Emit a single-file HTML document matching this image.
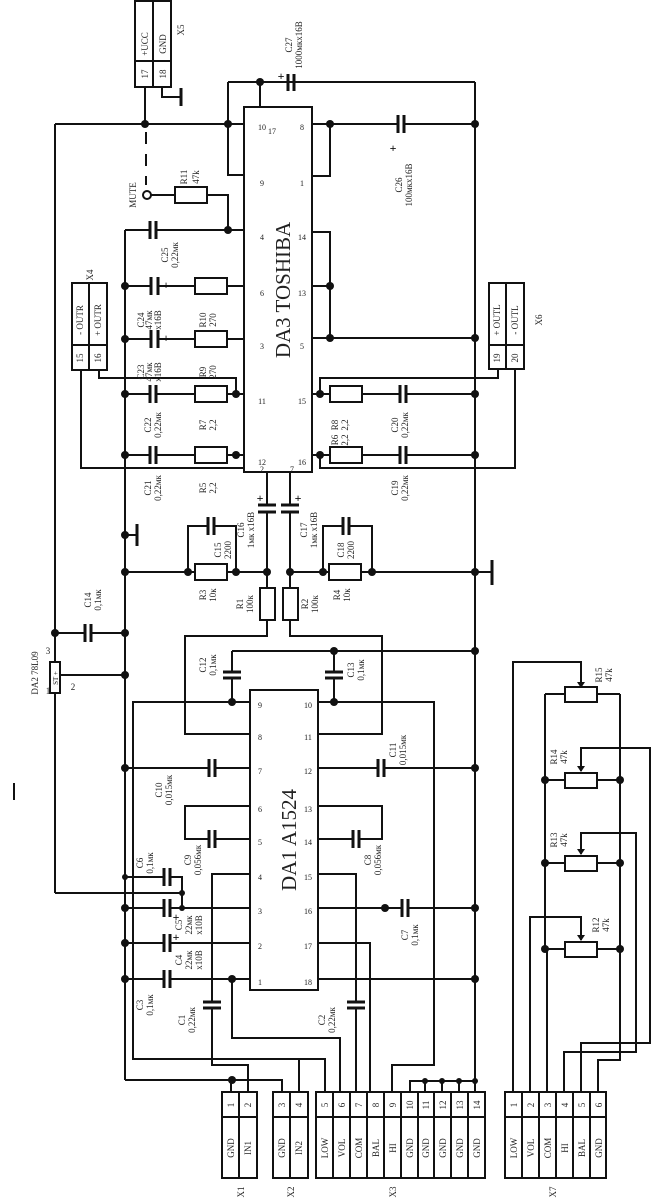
<!DOCTYPE html>
<html><head><meta charset="utf-8"><style>
html,body{margin:0;padding:0;background:#fff}
svg{display:block}
text{font-family:"Liberation Serif",serif;fill:#222}
</style></head><body>
<svg width="653" height="1200" viewBox="0 0 653 1200" xmlns="http://www.w3.org/2000/svg">
<g stroke="#111" stroke-width="2" fill="none">
<rect x="244" y="107" width="68" height="365"/>
<polyline points="228,82 475,82"/>
<polyline points="228,82 228,175 244,175"/>
<line x1="260" y1="82" x2="260" y2="107"/>
<line x1="55" y1="124" x2="244" y2="124"/>
<line x1="55" y1="124" x2="55" y2="893"/>
<line x1="55" y1="893" x2="182" y2="893"/>
<rect x="135" y="1" width="36" height="86"/>
<line x1="153" y1="1" x2="153" y2="87"/><line x1="135" y1="61" x2="171" y2="61"/>
<line x1="145" y1="87" x2="145" y2="124"/>
<polyline points="162,87 162,97 181,97"/><line x1="181" y1="88" x2="181" y2="106" stroke-width="3"/>
<line x1="146" y1="132" x2="146" y2="185" stroke-dasharray="12,10"/>
<line x1="151" y1="195" x2="175" y2="195"/><rect x="175" y="187" width="32" height="16"/>
<polyline points="207,195 228,195 228,230"/>
<line x1="125" y1="230" x2="125" y2="1080"/>
<line x1="125" y1="230" x2="150" y2="230"/><line x1="156" y1="230" x2="244" y2="230"/>
<line x1="125" y1="286" x2="151" y2="286"/><line x1="158" y1="286" x2="195" y2="286"/><rect x="195" y="278" width="32" height="16"/><line x1="227" y1="286" x2="244" y2="286"/>
<line x1="125" y1="339" x2="151" y2="339"/><line x1="158" y1="339" x2="195" y2="339"/><rect x="195" y="331" width="32" height="16"/><line x1="227" y1="339" x2="244" y2="339"/>
<line x1="125" y1="394" x2="150" y2="394"/><line x1="156" y1="394" x2="195" y2="394"/><rect x="195" y="386" width="32" height="16"/><line x1="227" y1="394" x2="244" y2="394"/>
<line x1="125" y1="455" x2="150" y2="455"/><line x1="156" y1="455" x2="195" y2="455"/><rect x="195" y="447" width="32" height="16"/><line x1="227" y1="455" x2="244" y2="455"/>
<rect x="72" y="283" width="35" height="87"/><line x1="89" y1="283" x2="89" y2="370"/><line x1="72" y1="345" x2="107" y2="345"/>
<polyline points="99,370 99,378 236,378 236,394"/>
<polyline points="81,370 81,468 244,468"/>
<line x1="312" y1="124" x2="398" y2="124"/><line x1="404" y1="124" x2="475" y2="124"/>
<polyline points="330,124 330,176 312,176"/>
<polyline points="312,232 330,232 330,338"/><line x1="312" y1="286" x2="330" y2="286"/>
<line x1="312" y1="338" x2="475" y2="338"/>
<line x1="475" y1="82" x2="475" y2="1080"/>
<line x1="312" y1="394" x2="330" y2="394"/><rect x="330" y="386" width="32" height="16"/><line x1="362" y1="394" x2="400" y2="394"/><line x1="406" y1="394" x2="475" y2="394"/>
<line x1="312" y1="455" x2="330" y2="455"/><rect x="330" y="447" width="32" height="16"/><line x1="362" y1="455" x2="400" y2="455"/><line x1="406" y1="455" x2="475" y2="455"/>
<rect x="489" y="283" width="35" height="86"/><line x1="506" y1="283" x2="506" y2="369"/><line x1="489" y1="345" x2="524" y2="345"/>
<polyline points="498,369 498,378 320,378 320,394"/>
<polyline points="515,369 515,468 320,468 320,455"/>
<line x1="267" y1="472" x2="267" y2="505"/><line x1="267" y1="512" x2="267" y2="588"/>
<line x1="290" y1="472" x2="290" y2="505"/><line x1="290" y1="512" x2="290" y2="588"/>
<line x1="125" y1="572" x2="195" y2="572"/><rect x="195" y="564" width="32" height="16"/><line x1="227" y1="572" x2="267" y2="572"/>
<polyline points="188,572 188,526 208,526"/><polyline points="214,526 236,526 236,572"/>
<line x1="290" y1="572" x2="329" y2="572"/><rect x="329" y="564" width="32" height="16"/><line x1="361" y1="572" x2="475" y2="572"/>
<polyline points="323,572 323,526 343,526"/><polyline points="349,526 372,526 372,572"/>
<polyline points="125,535 137,535"/><line x1="137" y1="524" x2="137" y2="546" stroke-width="3"/>
<polyline points="475,572 492,572"/><line x1="492" y1="560" x2="492" y2="585" stroke-width="3"/>
<rect x="260" y="588" width="15" height="32"/><rect x="283" y="588" width="15" height="32"/>
<polyline points="267,620 267,636 185,636 185,734 250,734"/>
<polyline points="290,620 290,636 382,636 382,734 318,734"/>
<line x1="55" y1="633" x2="85" y2="633"/><line x1="91" y1="633" x2="125" y2="633"/>
<rect x="50" y="662" width="10" height="31" fill="#fff"/>
<line x1="60" y1="675" x2="125" y2="675"/>
<rect x="250" y="690" width="68" height="300"/>
<line x1="232" y1="651" x2="475" y2="651"/>
<line x1="232" y1="651" x2="232" y2="672"/><line x1="232" y1="678" x2="232" y2="702"/>
<line x1="334" y1="651" x2="334" y2="672"/><line x1="334" y1="678" x2="334" y2="702"/>
<polyline points="250,702 133,702 133,1059 325,1059 325,1092"/>
<polyline points="318,702 434,702 434,1065 392,1065 392,1092"/>
<line x1="125" y1="768" x2="209" y2="768"/><line x1="215" y1="768" x2="250" y2="768"/>
<line x1="318" y1="768" x2="378" y2="768"/><line x1="384" y1="768" x2="475" y2="768"/>
<polyline points="250,806 185,806 185,839 209,839"/><line x1="215" y1="839" x2="250" y2="839"/>
<polyline points="318,806 382,806 382,839 359,839"/><line x1="353" y1="839" x2="318" y2="839"/>
<polyline points="250,874 212,874 212,1002"/><polyline points="212,1008 212,1065 248,1065 248,1092"/>
<polyline points="318,874 356,874 356,1002"/><polyline points="356,1008 356,1092"/>
<line x1="125" y1="877" x2="164" y2="877"/><polyline points="170,877 182,877 182,908"/>
<line x1="125" y1="908" x2="164" y2="908"/><line x1="170" y1="908" x2="250" y2="908"/>
<line x1="318" y1="908" x2="402" y2="908"/><line x1="408" y1="908" x2="475" y2="908"/>
<line x1="125" y1="943" x2="164" y2="943"/><line x1="170" y1="943" x2="250" y2="943"/>
<polyline points="318,943 370,943 370,1092"/>
<line x1="125" y1="979" x2="164" y2="979"/><line x1="170" y1="979" x2="250" y2="979"/>
<polyline points="232,979 232,1038 340,1038 340,1092"/>
<line x1="318" y1="979" x2="475" y2="979"/>
<polyline points="125,1080 282,1080 282,1092"/><line x1="231" y1="1080" x2="231" y2="1092"/>
<polyline points="299,1092 299,1060"/>
<polyline points="410,1092 410,1081 475,1081"/>
<line x1="425" y1="1081" x2="425" y2="1092"/><line x1="442" y1="1081" x2="442" y2="1092"/><line x1="459" y1="1081" x2="459" y2="1092"/><line x1="475" y1="1081" x2="475" y2="1092"/>
<rect x="222" y="1092" width="35" height="86"/><line x1="239" y1="1092" x2="239" y2="1178"/><line x1="222" y1="1117" x2="257" y2="1117"/>
<rect x="273" y="1092" width="35" height="86"/><line x1="290" y1="1092" x2="290" y2="1178"/><line x1="273" y1="1117" x2="308" y2="1117"/>
<rect x="316" y="1092" width="169" height="86"/><line x1="316" y1="1117" x2="485" y2="1117"/>
<line x1="333" y1="1092" x2="333" y2="1178"/><line x1="350" y1="1092" x2="350" y2="1178"/><line x1="367" y1="1092" x2="367" y2="1178"/><line x1="384" y1="1092" x2="384" y2="1178"/><line x1="401" y1="1092" x2="401" y2="1178"/><line x1="418" y1="1092" x2="418" y2="1178"/><line x1="434" y1="1092" x2="434" y2="1178"/><line x1="451" y1="1092" x2="451" y2="1178"/><line x1="468" y1="1092" x2="468" y2="1178"/>
<rect x="505" y="1092" width="101" height="86"/><line x1="505" y1="1117" x2="606" y2="1117"/>
<line x1="522" y1="1092" x2="522" y2="1178"/><line x1="539" y1="1092" x2="539" y2="1178"/><line x1="556" y1="1092" x2="556" y2="1178"/><line x1="573" y1="1092" x2="573" y2="1178"/><line x1="590" y1="1092" x2="590" y2="1178"/>
<line x1="545" y1="694" x2="545" y2="949"/><line x1="620" y1="694" x2="620" y2="949"/>
<line x1="545" y1="694" x2="565" y2="694"/><rect x="565" y="687" width="32" height="15"/><line x1="597" y1="694" x2="620" y2="694"/>
<line x1="545" y1="780" x2="565" y2="780"/><rect x="565" y="773" width="32" height="15"/><line x1="597" y1="780" x2="620" y2="780"/>
<line x1="545" y1="863" x2="565" y2="863"/><rect x="565" y="856" width="32" height="15"/><line x1="597" y1="863" x2="620" y2="863"/>
<line x1="545" y1="949" x2="565" y2="949"/><rect x="565" y="942" width="32" height="15"/><line x1="597" y1="949" x2="620" y2="949"/>
<polyline points="513,1092 513,662 581,662 581,685"/>
<polyline points="530,1092 530,917 581,917 581,940"/>
<line x1="547" y1="1092" x2="547" y2="949"/>
<polyline points="564,1092 564,1052 636,1052 636,833 581,833 581,854"/>
<polyline points="581,1092 581,1043 650,1043 650,748 581,748 581,771"/>
<polyline points="598,1092 598,1060 620,1060 620,949"/>
<line x1="14" y1="783" x2="14" y2="800"/>
</g>
<g stroke="#111" stroke-width="3">
<line x1="288" y1="74" x2="288" y2="91"/><line x1="294" y1="74" x2="294" y2="91"/>
<line x1="398" y1="115" x2="398" y2="133"/><line x1="404" y1="115" x2="404" y2="133"/>
<line x1="150" y1="221" x2="150" y2="239"/><line x1="156" y1="221" x2="156" y2="239"/>
<line x1="151" y1="277" x2="151" y2="295"/><line x1="158" y1="277" x2="158" y2="295"/>
<line x1="151" y1="330" x2="151" y2="348"/><line x1="158" y1="330" x2="158" y2="348"/>
<line x1="150" y1="385" x2="150" y2="403"/><line x1="156" y1="385" x2="156" y2="403"/>
<line x1="150" y1="446" x2="150" y2="464"/><line x1="156" y1="446" x2="156" y2="464"/>
<line x1="400" y1="385" x2="400" y2="403"/><line x1="406" y1="385" x2="406" y2="403"/>
<line x1="400" y1="446" x2="400" y2="464"/><line x1="406" y1="446" x2="406" y2="464"/>
<line x1="258" y1="505" x2="276" y2="505"/><line x1="258" y1="512" x2="276" y2="512"/>
<line x1="281" y1="505" x2="299" y2="505"/><line x1="281" y1="512" x2="299" y2="512"/>
<line x1="208" y1="517" x2="208" y2="535"/><line x1="214" y1="517" x2="214" y2="535"/>
<line x1="343" y1="517" x2="343" y2="535"/><line x1="349" y1="517" x2="349" y2="535"/>
<line x1="85" y1="624" x2="85" y2="642"/><line x1="91" y1="624" x2="91" y2="642"/>
<line x1="223" y1="672" x2="241" y2="672"/><line x1="223" y1="678" x2="241" y2="678"/>
<line x1="325" y1="672" x2="343" y2="672"/><line x1="325" y1="678" x2="343" y2="678"/>
<line x1="209" y1="759" x2="209" y2="777"/><line x1="215" y1="759" x2="215" y2="777"/>
<line x1="378" y1="759" x2="378" y2="777"/><line x1="384" y1="759" x2="384" y2="777"/>
<line x1="209" y1="830" x2="209" y2="848"/><line x1="215" y1="830" x2="215" y2="848"/>
<line x1="353" y1="830" x2="353" y2="848"/><line x1="359" y1="830" x2="359" y2="848"/>
<line x1="164" y1="868" x2="164" y2="886"/><line x1="170" y1="868" x2="170" y2="886"/>
<line x1="164" y1="899" x2="164" y2="917"/><line x1="170" y1="899" x2="170" y2="917"/>
<line x1="164" y1="934" x2="164" y2="952"/><line x1="170" y1="934" x2="170" y2="952"/>
<line x1="164" y1="970" x2="164" y2="988"/><line x1="170" y1="970" x2="170" y2="988"/>
<line x1="402" y1="899" x2="402" y2="917"/><line x1="408" y1="899" x2="408" y2="917"/>
<line x1="203" y1="1002" x2="221" y2="1002"/><line x1="203" y1="1008" x2="221" y2="1008"/>
<line x1="347" y1="1002" x2="365" y2="1002"/><line x1="347" y1="1008" x2="365" y2="1008"/>
</g>
<g fill="#111" font-size="12" font-weight="bold" text-anchor="middle">
<text x="281" y="80" style="fill:#111">+</text><text x="393" y="152" style="fill:#111">+</text>
<text x="166" y="289" style="fill:#111">+</text><text x="166" y="342" style="fill:#111">+</text>
<text x="260" y="502" style="fill:#111">+</text><text x="298" y="502" style="fill:#111">+</text>
<text x="176" y="921" style="fill:#111">+</text><text x="176" y="941" style="fill:#111">+</text>
</g>
<g fill="#111">
<polygon points="577,682 585,682 581,688"/><polygon points="577,766 585,766 581,772"/>
<polygon points="577,849 585,849 581,855"/><polygon points="577,935 585,935 581,941"/>
</g>
<circle cx="147" cy="195" r="4" fill="#fff" stroke="#111" stroke-width="2"/>
<g fill="#111">
<circle cx="260" cy="82" r="4"/><circle cx="475" cy="124" r="4"/><circle cx="145" cy="124" r="4"/><circle cx="228" cy="124" r="4"/>
<circle cx="330" cy="124" r="4"/><circle cx="228" cy="230" r="4"/><circle cx="330" cy="286" r="4"/><circle cx="330" cy="338" r="4"/><circle cx="475" cy="338" r="4"/>
<circle cx="125" cy="286" r="4"/><circle cx="125" cy="339" r="4"/><circle cx="125" cy="394" r="4"/><circle cx="125" cy="455" r="4"/>
<circle cx="236" cy="394" r="4"/><circle cx="236" cy="455" r="4"/><circle cx="320" cy="394" r="4"/><circle cx="320" cy="455" r="4"/>
<circle cx="475" cy="394" r="4"/><circle cx="475" cy="455" r="4"/>
<circle cx="125" cy="535" r="4"/><circle cx="125" cy="572" r="4"/><circle cx="188" cy="572" r="4"/><circle cx="236" cy="572" r="4"/><circle cx="267" cy="572" r="4"/>
<circle cx="290" cy="572" r="4"/><circle cx="323" cy="572" r="4"/><circle cx="372" cy="572" r="4"/><circle cx="475" cy="572" r="4"/>
<circle cx="55" cy="633" r="4"/><circle cx="125" cy="633" r="4"/><circle cx="125" cy="675" r="4"/>
<circle cx="334" cy="651" r="4"/><circle cx="475" cy="651" r="4"/><circle cx="232" cy="702" r="4"/><circle cx="334" cy="702" r="4"/>
<circle cx="125" cy="768" r="4"/><circle cx="475" cy="768" r="4"/><circle cx="125" cy="877" r="3"/><circle cx="182" cy="893" r="3"/><circle cx="182" cy="908" r="3"/>
<circle cx="125" cy="908" r="4"/><circle cx="125" cy="943" r="4"/><circle cx="125" cy="979" r="4"/><circle cx="232" cy="979" r="4"/>
<circle cx="385" cy="908" r="4"/><circle cx="475" cy="908" r="4"/><circle cx="475" cy="979" r="4"/>
<circle cx="232" cy="1080" r="4"/><circle cx="425" cy="1081" r="3"/><circle cx="442" cy="1081" r="3"/><circle cx="459" cy="1081" r="3"/><circle cx="475" cy="1081" r="3"/>
<circle cx="545" cy="780" r="4"/><circle cx="620" cy="780" r="4"/><circle cx="545" cy="863" r="4"/><circle cx="620" cy="863" r="4"/><circle cx="545" cy="949" r="4"/><circle cx="620" cy="949" r="4"/>
</g>
<g font-size="9" text-anchor="middle">
<text transform="translate(290,290) rotate(-90)" font-size="21">DA3 TOSHIBA</text>
<text transform="translate(296,840) rotate(-90)" font-size="21">DA1 A1524</text>
<text transform="translate(148,44) rotate(-90)">+UCC</text>
<text transform="translate(166,44) rotate(-90)">GND</text>
<text transform="translate(148,74) rotate(-90)">17</text><text transform="translate(166,74) rotate(-90)">18</text>
<text transform="translate(184,30) rotate(-90)">X5</text>
<text transform="translate(136,195) rotate(-90)">MUTE</text>
<text transform="translate(187,177) rotate(-90)">R11</text><text transform="translate(199,177) rotate(-90)">47k</text>
<text transform="translate(292,45) rotate(-90)">C27</text><text transform="translate(302,45) rotate(-90)">1000мкх16В</text>
<text transform="translate(402,185) rotate(-90)">C26</text><text transform="translate(412,185) rotate(-90)">100мкх16В</text>
<text transform="translate(168,255) rotate(-90)">C25</text><text transform="translate(178,255) rotate(-90)">0,22мк</text>
<text transform="translate(144,320) rotate(-90)">C24</text><text transform="translate(152,320) rotate(-90)">47мк</text><text transform="translate(161,320) rotate(-90)">x16B</text>
<text transform="translate(144,372) rotate(-90)">C23</text><text transform="translate(152,372) rotate(-90)">47мк</text><text transform="translate(161,372) rotate(-90)">x16B</text>
<text transform="translate(206,320) rotate(-90)">R10</text><text transform="translate(216,320) rotate(-90)">270</text>
<text transform="translate(206,372) rotate(-90)">R9</text><text transform="translate(216,372) rotate(-90)">270</text>
<text transform="translate(206,425) rotate(-90)">R7</text><text transform="translate(216,425) rotate(-90)">2,2</text>
<text transform="translate(206,488) rotate(-90)">R5</text><text transform="translate(216,488) rotate(-90)">2,2</text>
<text transform="translate(151,425) rotate(-90)">C22</text><text transform="translate(161,425) rotate(-90)">0,22мк</text>
<text transform="translate(151,488) rotate(-90)">C21</text><text transform="translate(161,488) rotate(-90)">0,22мк</text>
<text transform="translate(338,425) rotate(-90)">R8</text><text transform="translate(348,425) rotate(-90)">2,2</text>
<text transform="translate(338,440) rotate(-90)">R6</text><text transform="translate(348,440) rotate(-90)">2,2</text>
<text transform="translate(398,425) rotate(-90)">C20</text><text transform="translate(408,425) rotate(-90)">0,22мк</text>
<text transform="translate(398,488) rotate(-90)">C19</text><text transform="translate(408,488) rotate(-90)">0,22мк</text>
<text transform="translate(83,320) rotate(-90)">- OUTR</text><text transform="translate(101,320) rotate(-90)">+ OUTR</text>
<text transform="translate(83,358) rotate(-90)">15</text><text transform="translate(101,358) rotate(-90)">16</text>
<text transform="translate(93,275) rotate(-90)">X4</text>
<text transform="translate(500,320) rotate(-90)">+ OUTL</text><text transform="translate(518,320) rotate(-90)">- OUTL</text>
<text transform="translate(500,358) rotate(-90)">19</text><text transform="translate(518,358) rotate(-90)">20</text>
<text transform="translate(542,320) rotate(-90)">X6</text>
<text transform="translate(244,530) rotate(-90)">C16</text><text transform="translate(254,530) rotate(-90)">1мк x16B</text>
<text transform="translate(307,530) rotate(-90)">C17</text><text transform="translate(317,530) rotate(-90)">1мк x16B</text>
<text transform="translate(221,550) rotate(-90)">C15</text><text transform="translate(231,550) rotate(-90)">2200</text>
<text transform="translate(344,550) rotate(-90)">C18</text><text transform="translate(354,550) rotate(-90)">2200</text>
<text transform="translate(206,595) rotate(-90)">R3</text><text transform="translate(216,595) rotate(-90)">10к</text>
<text transform="translate(340,595) rotate(-90)">R4</text><text transform="translate(350,595) rotate(-90)">10к</text>
<text transform="translate(243,604) rotate(-90)">R1</text><text transform="translate(253,604) rotate(-90)">100к</text>
<text transform="translate(308,604) rotate(-90)">R2</text><text transform="translate(318,604) rotate(-90)">100к</text>
<text transform="translate(91,600) rotate(-90)">C14</text><text transform="translate(101,600) rotate(-90)">0,1мк</text>
<text transform="translate(38,673) rotate(-90)">DA2 78L09</text>
<text transform="translate(58,678) rotate(-90)" font-size="7">ST +</text>
<text x="48" y="694">1</text><text x="48" y="654">3</text><text x="73" y="690">2</text>
<text transform="translate(206,665) rotate(-90)">C12</text><text transform="translate(216,665) rotate(-90)">0,1мк</text>
<text transform="translate(354,670) rotate(-90)">C13</text><text transform="translate(364,670) rotate(-90)">0,1мк</text>
<text transform="translate(396,750) rotate(-90)">C11</text><text transform="translate(406,750) rotate(-90)">0,015мк</text>
<text transform="translate(162,790) rotate(-90)">C10</text><text transform="translate(172,790) rotate(-90)">0,015мк</text>
<text transform="translate(191,860) rotate(-90)">C9</text><text transform="translate(201,860) rotate(-90)">0,056мк</text>
<text transform="translate(371,860) rotate(-90)">C8</text><text transform="translate(381,860) rotate(-90)">0,056мк</text>
<text transform="translate(143,863) rotate(-90)">C6</text><text transform="translate(153,863) rotate(-90)">0,1мк</text>
<text transform="translate(182,925) rotate(-90)">C5</text><text transform="translate(192,925) rotate(-90)">22мк</text><text transform="translate(202,925) rotate(-90)">x10B</text>
<text transform="translate(182,960) rotate(-90)">C4</text><text transform="translate(192,960) rotate(-90)">22мк</text><text transform="translate(202,960) rotate(-90)">x10B</text>
<text transform="translate(143,1005) rotate(-90)">C3</text><text transform="translate(153,1005) rotate(-90)">0,1мк</text>
<text transform="translate(185,1020) rotate(-90)">C1</text><text transform="translate(195,1020) rotate(-90)">0,22мк</text>
<text transform="translate(325,1020) rotate(-90)">C2</text><text transform="translate(335,1020) rotate(-90)">0,22мк</text>
<text transform="translate(408,935) rotate(-90)">C7</text><text transform="translate(418,935) rotate(-90)">0,1мк</text>
<text transform="translate(602,675) rotate(-90)">R15</text><text transform="translate(612,675) rotate(-90)">47k</text>
<text transform="translate(557,757) rotate(-90)">R14</text><text transform="translate(567,757) rotate(-90)">47k</text>
<text transform="translate(557,840) rotate(-90)">R13</text><text transform="translate(567,840) rotate(-90)">47k</text>
<text transform="translate(599,925) rotate(-90)">R12</text><text transform="translate(609,925) rotate(-90)">47k</text>
<g font-size="8">
<text x="262" y="130">10</text><text x="272" y="134">17</text><text x="262" y="186">9</text><text x="262" y="240">4</text><text x="262" y="296">6</text><text x="262" y="349">3</text><text x="262" y="404">11</text><text x="262" y="465">12</text><text x="262" y="472">2</text>
<text x="302" y="130">8</text><text x="302" y="186">1</text><text x="302" y="240">14</text><text x="302" y="296">13</text><text x="302" y="349">5</text><text x="302" y="404">15</text><text x="302" y="465">16</text><text x="292" y="472">7</text>
<text x="260" y="708">9</text><text x="260" y="740">8</text><text x="260" y="774">7</text><text x="260" y="812">6</text><text x="260" y="845">5</text><text x="260" y="880">4</text><text x="260" y="914">3</text><text x="260" y="949">2</text><text x="260" y="985">1</text>
<text x="308" y="708">10</text><text x="308" y="740">11</text><text x="308" y="774">12</text><text x="308" y="812">13</text><text x="308" y="845">14</text><text x="308" y="880">15</text><text x="308" y="914">16</text><text x="308" y="949">17</text><text x="308" y="985">18</text>
</g>
<g font-size="9">
<text transform="translate(234,1105) rotate(-90)">1</text><text transform="translate(251,1105) rotate(-90)">2</text>
<text transform="translate(234,1148) rotate(-90)">GND</text><text transform="translate(251,1148) rotate(-90)">IN1</text>
<text transform="translate(285,1105) rotate(-90)">3</text><text transform="translate(302,1105) rotate(-90)">4</text>
<text transform="translate(285,1148) rotate(-90)">GND</text><text transform="translate(302,1148) rotate(-90)">IN2</text>
<text transform="translate(328,1105) rotate(-90)">5</text><text transform="translate(345,1105) rotate(-90)">6</text><text transform="translate(362,1105) rotate(-90)">7</text><text transform="translate(379,1105) rotate(-90)">8</text><text transform="translate(396,1105) rotate(-90)">9</text><text transform="translate(413,1105) rotate(-90)">10</text><text transform="translate(429,1105) rotate(-90)">11</text><text transform="translate(446,1105) rotate(-90)">12</text><text transform="translate(463,1105) rotate(-90)">13</text><text transform="translate(480,1105) rotate(-90)">14</text>
<text transform="translate(328,1148) rotate(-90)">LOW</text><text transform="translate(345,1148) rotate(-90)">VOL</text><text transform="translate(362,1148) rotate(-90)">COM</text><text transform="translate(379,1148) rotate(-90)">BAL</text><text transform="translate(396,1148) rotate(-90)">HI</text><text transform="translate(413,1148) rotate(-90)">GND</text><text transform="translate(429,1148) rotate(-90)">GND</text><text transform="translate(446,1148) rotate(-90)">GND</text><text transform="translate(463,1148) rotate(-90)">GND</text><text transform="translate(480,1148) rotate(-90)">GND</text>
<text transform="translate(517,1105) rotate(-90)">1</text><text transform="translate(534,1105) rotate(-90)">2</text><text transform="translate(551,1105) rotate(-90)">3</text><text transform="translate(568,1105) rotate(-90)">4</text><text transform="translate(585,1105) rotate(-90)">5</text><text transform="translate(602,1105) rotate(-90)">6</text>
<text transform="translate(517,1148) rotate(-90)">LOW</text><text transform="translate(534,1148) rotate(-90)">VOL</text><text transform="translate(551,1148) rotate(-90)">COM</text><text transform="translate(568,1148) rotate(-90)">HI</text><text transform="translate(585,1148) rotate(-90)">BAL</text><text transform="translate(602,1148) rotate(-90)">GND</text>
<text transform="translate(244,1192) rotate(-90)">X1</text><text transform="translate(294,1192) rotate(-90)">X2</text><text transform="translate(396,1192) rotate(-90)">X3</text><text transform="translate(556,1192) rotate(-90)">X7</text>
</g>
</g>
</svg>
</body></html>
